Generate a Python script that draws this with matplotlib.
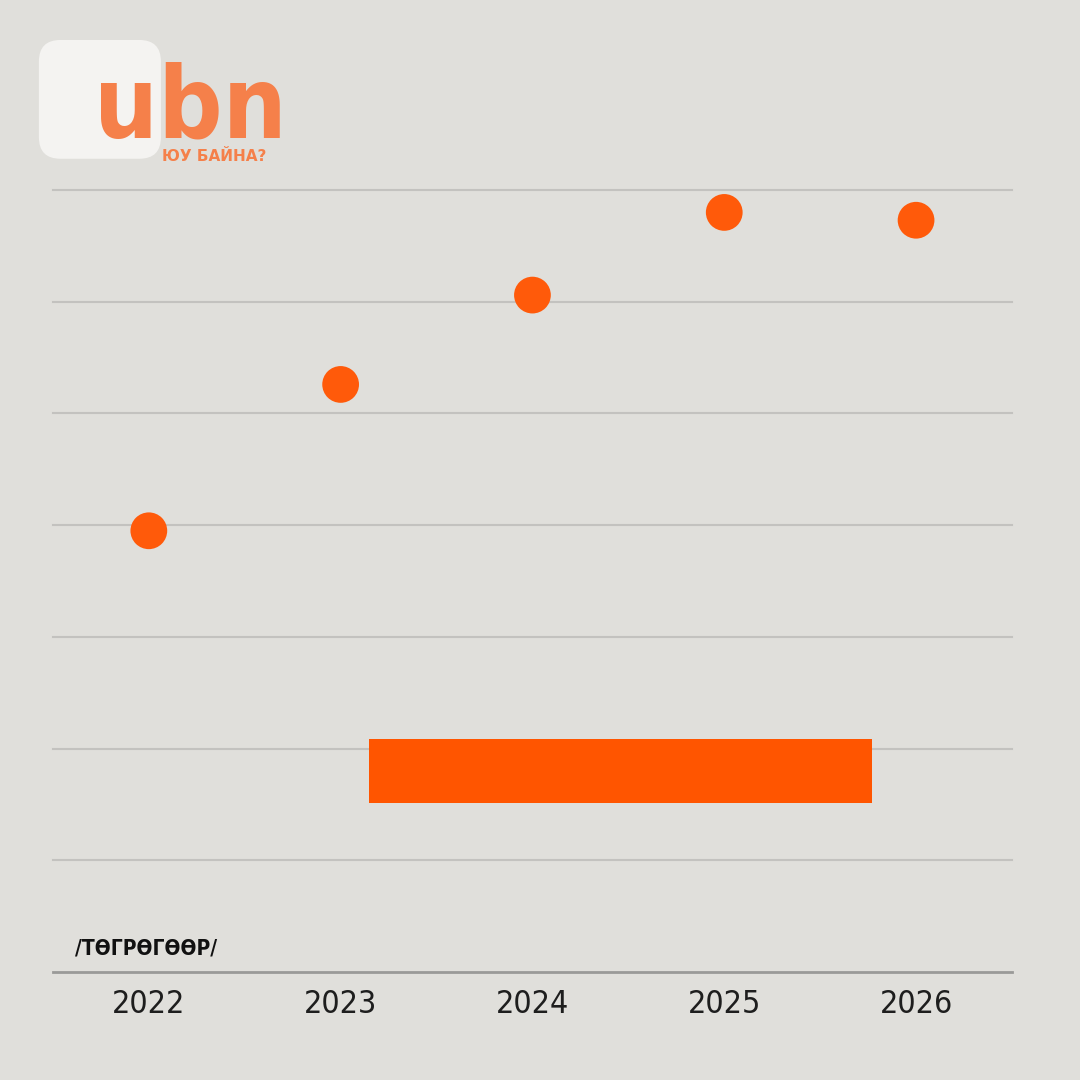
import matplotlib.pyplot as plt
from matplotlib.patches import FancyBboxPatch

# data
years = [2022, 2023, 2024, 2025, 2026]
values = [3.95, 5.26, 6.06, 6.80, 6.73]
bar_start = 2023.15
bar_end = 2025.77
bar_low = 1.51
bar_high = 2.09
unit_label = "/ТӨГРӨГӨӨР/"

bg = "#e0dfdb"
orange = "#ff5a0a"
logo_orange = "#f5804a"
narrow = ["DejaVu Sans"]

fig = plt.figure(figsize=(10.8, 10.8), dpi=100, facecolor=bg)
ax = fig.add_axes([0.049, 0.1, 0.888, 0.724])
ax.set_facecolor(bg)

# grid lines
for g in range(1, 8):
    ax.axhline(g, color="#c3c2bf", lw=1.5, zorder=1, clip_on=False)

ax.barh((bar_low + bar_high) / 2, bar_end - bar_start, height=bar_high - bar_low,
        left=bar_start, color="#ff5500", zorder=2)

ax.scatter(years, values, s=700, color=orange, zorder=3, edgecolors="none")

ax.set_xlim(2021.5, 2026.5)
ax.set_ylim(0, 7)
for s in ["top", "right", "left"]:
    ax.spines[s].set_visible(False)
ax.spines["bottom"].set_color("#9a9a98")
ax.spines["bottom"].set_linewidth(2)
ax.set_yticks([])
ax.set_xticks(years)
ax.set_xticklabels([str(y) for y in years], fontsize=23, family=narrow,
                   fontstretch="condensed", color="#1e1e1e")
ax.tick_params(axis="x", length=0, pad=12)

fig.text(0.069, 0.116, unit_label, fontsize=15, fontweight="bold",
         family=narrow, fontstretch="condensed", color="#111111")

# logo
logo_box = FancyBboxPatch((0.036, 0.853), 0.113, 0.11,
                          boxstyle="round,pad=0,rounding_size=0.02",
                          transform=fig.transFigure, facecolor="#f4f3f1",
                          edgecolor="none")
fig.patches.append(logo_box)
fig.text(0.087, 0.873, "ubn", fontsize=72, color=logo_orange, fontweight="bold",
         family="DejaVu Sans", fontstretch="condensed", va="baseline")
fig.text(0.15, 0.851, "ЮУ БАЙНА?", fontsize=11, color=logo_orange,
         fontweight="bold", family="DejaVu Sans", va="baseline")

plt.savefig("out.png", dpi=100, facecolor=bg)
